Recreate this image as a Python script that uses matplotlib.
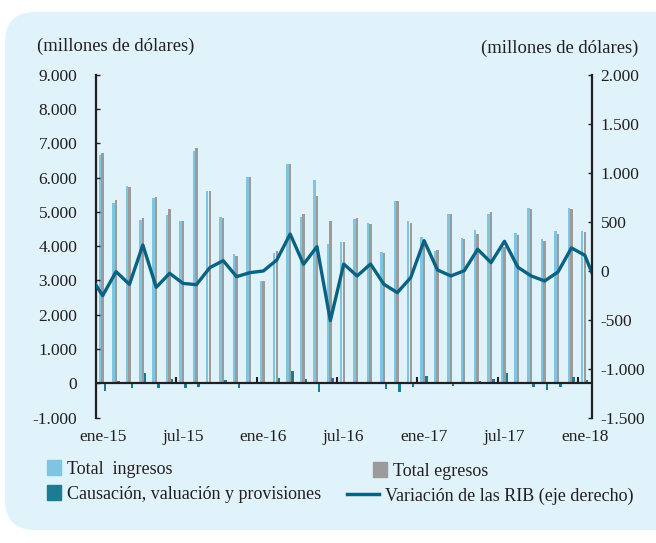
import matplotlib.pyplot as plt
from matplotlib.patches import FancyBboxPatch, Patch
from matplotlib.lines import Line2D
from matplotlib.ticker import FuncFormatter
import numpy as np

plt.rcParams['font.family'] = ['Liberation Serif', 'DejaVu Serif']
plt.rcParams['font.size'] = 12.5
txt_c = '#231f20'

# meses ene-15 .. ene-18 (37)
meses = ['ene-15', 'feb-15', 'mar-15', 'abr-15', 'may-15', 'jun-15', 'jul-15', 'ago-15', 'sep-15', 'oct-15', 'nov-15', 'dic-15',
         'ene-16', 'feb-16', 'mar-16', 'abr-16', 'may-16', 'jun-16', 'jul-16', 'ago-16', 'sep-16', 'oct-16', 'nov-16', 'dic-16',
         'ene-17', 'feb-17', 'mar-17', 'abr-17', 'may-17', 'jun-17', 'jul-17', 'ago-17', 'sep-17', 'oct-17', 'nov-17', 'dic-17',
         'ene-18']
ingresos = [6660, 5270, 5750, 4760, 5410, 4910, 4730, 6770, 5620, 4840, 3770, 6010,
            2990, 3790, 6400, 4840, 5930, 4050, 4130, 4780, 4670, 3840, 5330, 4730,
            4280, 3860, 4940, 4240, 4480, 4940, 3990, 4370, 5100, 4210, 4430, 5100,
            4440]
egresos = [6710, 5360, 5730, 4810, 5430, 5070, 4730, 6850, 5620, 4830, 3700, 6010,
           2990, 3850, 6400, 4930, 5460, 4730, 4130, 4810, 4640, 3790, 5320, 4690,
           4180, 3890, 4940, 4210, 4350, 5000, 3990, 4330, 5070, 4140, 4350, 5080,
           4400]
causacion = [-210, 80, -150, 290, -150, 140, -150, -100, 30, 100, -150, 0,
             0, 150, 360, 140, -250, 165, 50, 10, 40, -160, -240, -110,
             210, 40, -70, 0, 80, 140, 310, 0, -100, -190, -100, 190,
             110]
# variación RIB, incluye dic-14 y feb-18 (fuera del eje)
var_rib = [-40,
           -255, -10, -140, 262, -170, -27, -130, -143, 31, 102, -61, -20,
           -3, 109, 374, 65, 245, -510, 68, -54, 68, -139, -224, -71,
           306, 7, -54, 0, 218, 82, 300, 35, -54, -105, -13, 232,
           157,
           -180]

x = np.arange(len(meses))
x_line = np.arange(-1, len(meses) + 1)

fig = plt.figure(figsize=(6.56, 5.43), dpi=100)
# panel celeste de fondo
panel = FancyBboxPatch((0.05, 0.13), 7.0, 5.18, boxstyle='round,pad=0,rounding_size=0.3',
                       transform=fig.dpi_scale_trans, facecolor='#e1f3fa', edgecolor='none', zorder=-10)
fig.patches.append(panel)

ax = fig.add_axes([0.1463, 0.2309, 0.9017 - 0.1463, 0.8624 - 0.2309])
ax.patch.set_alpha(0)
w = 0.18
ax.bar(x - 0.19, ingresos, w, color='#7fc4e3', linewidth=0)
ax.bar(x, egresos, w, color='#9b9b9c', linewidth=0)
ax.bar(x + 0.17, causacion, w, color='#1c7a94', linewidth=0)
ax.axhline(0, color=txt_c, lw=1.6)
ax.vlines(np.arange(5.5, 36, 6), 0, 175, color=txt_c, lw=1.5)

ax.set_xlim(-0.5, 36.5)
ax.set_ylim(-1000, 9000)
ax.set_yticks(range(-1000, 9001, 1000))
fmt = FuncFormatter(lambda v, p: f'{v:,.0f}'.replace(',', '.'))
ax.yaxis.set_major_formatter(fmt)
ax.set_xticks(x[::6])
ax.set_xticklabels(meses[::6])
ax.tick_params(axis='x', length=0, pad=8, colors=txt_c)
ax.tick_params(axis='y', direction='in', length=3, width=1, pad=13.5, colors=txt_c)
for s in ['top', 'bottom', 'right']:
    ax.spines[s].set_visible(False)
ax.spines['left'].set_color(txt_c)
ax.spines['left'].set_linewidth(1.6)

ax2 = ax.twinx()
ax2.plot(x_line, var_rib, color='#0a6282', lw=2.4)
ax2.set_ylim(-1500, 2000)
ax2.set_yticks(range(-1500, 2001, 500))
ax2.yaxis.set_major_formatter(fmt)
ax2.tick_params(axis='y', direction='in', length=3, width=1, pad=6.5, colors=txt_c)
for s in ['top', 'bottom', 'left']:
    ax2.spines[s].set_visible(False)
ax2.spines['right'].set_color(txt_c)
ax2.spines['right'].set_linewidth(1.6)
ax2.set_xlim(-0.5, 36.5)

fig.text(37 / 656, 1 - 46 / 543, '(millones de dólares)', ha='left', va='center', color=txt_c, fontsize=13.4)
fig.text(638 / 656, 1 - 48 / 543, '(millones de dólares)', ha='right', va='center', color=txt_c, fontsize=13.4)

# leyenda, cada elemento por separado
items = [
    (Patch(color='#7fc4e3'), 'Total  ingresos', 47, 469, 0.75),
    (Patch(color='#9b9b9c'), 'Total egresos', 373, 471, 0.75),
    (Patch(color='#1f7a93'), 'Causación, valuación y provisiones', 47, 494, 0.75),
    (Line2D([], [], color='#0a6282', lw=2.5), 'Variación de las RIB (eje derecho)', 347, 496, 1.75),
]
for h, lab, px, py, hl in items:
    fig.legend([h], [lab], loc='center left', bbox_to_anchor=(px / 656, 1 - py / 543),
               frameon=False, borderpad=0, borderaxespad=0, handlelength=hl, handleheight=0.85,
               handletextpad=0.35, labelcolor=txt_c, fontsize=13.0)

fig.savefig('out.png', dpi=100)
